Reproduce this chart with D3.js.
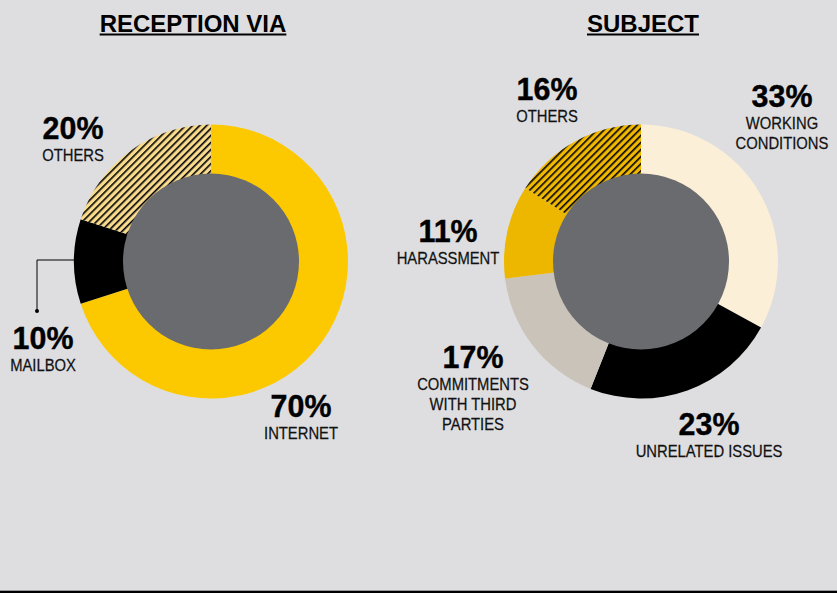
<!DOCTYPE html>
<html>
<head>
<meta charset="utf-8">
<script src="https://cdn.jsdelivr.net/npm/d3@7"></script>
<style>
  html, body { margin: 0; padding: 0; background: #dedee0; }
  svg { display: block; }
</style>
</head>
<body>
<svg id="chart" width="837" height="593"></svg>
<script>
// ---------- data ----------
const receptionCategories = ["INTERNET", "MAILBOX", "OTHERS"];
const receptionValues = [70, 10, 20];

const subjectCategories = ["WORKING CONDITIONS", "UNRELATED ISSUES", "COMMITMENTS WITH THIRD PARTIES", "HARASSMENT", "OTHERS"];
const subjectValues = [33, 23, 17, 11, 16];

const titles = ["RECEPTION VIA", "SUBJECT"];

// ---------- layout / styles ----------
const W = 837, H = 593;
const svg = d3.select("#chart");
const bg = "#dedee0";
const holeColor = "#6a6b6f";

svg.append("rect").attr("width", W).attr("height", H).attr("fill", bg);

const defs = svg.append("defs");
function hatch(id, base) {
  const p = defs.append("pattern")
    .attr("id", id)
    .attr("patternUnits", "userSpaceOnUse")
    .attr("width", 5).attr("height", 5)
    .attr("patternTransform", "rotate(45)");
  p.append("rect").attr("width", 5).attr("height", 5).attr("fill", base);
  p.append("rect").attr("x", 0).attr("width", 1.6).attr("height", 5).attr("fill", "#000");
}
hatch("hatchLight", "#f8db8c");
hatch("hatchDark", "#f0b900");

const receptionColors = ["#fcc900", "#000000", "url(#hatchLight)"];
const subjectColors = ["#fbefd7", "#000000", "#c9c3b9", "#edb700", "url(#hatchDark)"];

const outerR = 137, innerR = 88;

const pie = d3.pie().sort(null).value(d => d.value).startAngle(0).endAngle(2 * Math.PI);
const arc = d3.arc().innerRadius(innerR - 1).outerRadius(outerR);

function donut(cx, cy, cats, vals, colors) {
  const data = cats.map((c, i) => ({ cat: c, value: vals[i], color: colors[i] }));
  const g = svg.append("g").attr("transform", `translate(${cx},${cy})`);
  g.selectAll("path").data(pie(data)).join("path")
    .attr("d", arc)
    .attr("fill", d => d.data.color);
  g.append("circle").attr("r", innerR).attr("fill", holeColor);
  return data;
}

const leftC = [211, 261.5];
const rightC = [641, 261.5];

const recData = donut(leftC[0], leftC[1], receptionCategories, receptionValues, receptionColors);
const subData = donut(rightC[0], rightC[1], subjectCategories, subjectValues, subjectColors);

// label anchors (center x, baseline of percentage) and line breaks
const receptionLabelPos = [
  { x: 301, y: 417, lines: ["INTERNET"] },
  { x: 43, y: 349, lines: ["MAILBOX"] },
  { x: 73, y: 139, lines: ["OTHERS"] }
];
const subjectLabelPos = [
  { x: 782, y: 107, lines: ["WORKING", "CONDITIONS"] },
  { x: 709, y: 435, lines: ["UNRELATED ISSUES"] },
  { x: 473, y: 368, lines: ["COMMITMENTS", "WITH THIRD", "PARTIES"] },
  { x: 448, y: 242, lines: ["HARASSMENT"] },
  { x: 547, y: 100, lines: ["OTHERS"] }
];

const condense = 0.87;

function labels(data, pos) {
  data.forEach((d, i) => {
    const p = pos[i];
    svg.append("text")
      .attr("transform", `translate(${p.x},${p.y}) scale(0.98,1)`)
      .attr("text-anchor", "middle")
      .attr("font-family", "'Liberation Sans', Arial, sans-serif")
      .attr("font-weight", "bold")
      .attr("font-size", 31)
      .attr("fill", "#000")
      .attr("stroke", "#000").attr("stroke-width", 0.4)
      .text(d.value + "%");
    p.lines.forEach((ln, j) => {
      svg.append("text")
        .attr("transform", `translate(${p.x},${p.y + 22 + j * 20}) scale(${condense},1)`)
        .attr("text-anchor", "middle")
        .attr("font-family", "'Liberation Sans', Arial, sans-serif")
        .attr("font-size", 17)
        .attr("fill", "#111")
        .attr("stroke", "#111").attr("stroke-width", 0.25)
        .text(ln);
    });
  });
}
labels(recData, receptionLabelPos);
labels(subData, subjectLabelPos);

// leader line for mailbox
const leader = svg.append("g");
leader.append("path")
  .attr("d", d3.line()([[80, 260], [37, 260], [37, 311]]))
  .attr("fill", "none").attr("stroke", "#000").attr("stroke-width", 1);
leader.append("circle").attr("cx", 37).attr("cy", 311).attr("r", 2).attr("fill", "#000");

// titles
const titleX = [193, 643];
titles.forEach((t, i) => {
  const tx = svg.append("text")
    .attr("x", titleX[i]).attr("y", 32)
    .attr("text-anchor", "middle")
    .attr("font-family", "'Liberation Sans', Arial, sans-serif")
    .attr("font-weight", "bold")
    .attr("font-size", 24)
    .attr("fill", "#000")
    .text(t);
  const w = tx.node().getComputedTextLength();
  svg.append("line")
    .attr("x1", titleX[i] - w / 2).attr("x2", titleX[i] + w / 2)
    .attr("y1", 34.5).attr("y2", 34.5)
    .attr("stroke", "#000").attr("stroke-width", 2);
});

// bottom rule
svg.append("line").attr("x1", 0).attr("x2", W).attr("y1", 590.5).attr("y2", 590.5)
  .attr("stroke", "#9a9a9c").attr("stroke-width", 1);
svg.append("line").attr("x1", 0).attr("x2", W).attr("y1", 592).attr("y2", 592)
  .attr("stroke", "#000").attr("stroke-width", 2);
</script>
</body>
</html>
